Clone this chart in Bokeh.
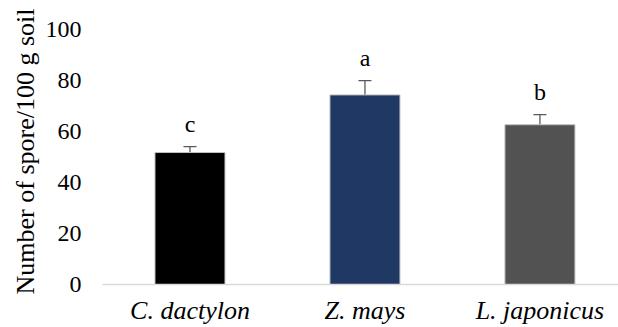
from bokeh.plotting import figure
from bokeh.models import ColumnDataSource, Range1d, FixedTicker, Whisker, TeeHead, LabelSet
from bokeh.embed import file_html
from bokeh.resources import INLINE

categories = ["C. dactylon", "Z. mays", "L. japonicus"]
means = [51.8, 74.4, 62.7]
errors = [2.3, 5.6, 4.0]
letters = ["c", "a", "b"]
colors = ["#000000", "#203864", "#525252"]
y_ticks = [0, 20, 40, 60, 80, 100]

xs = list(range(1, len(categories) + 1))
upper = [m + e for m, e in zip(means, errors)]
src = ColumnDataSource(dict(x=xs, top=means, upper=upper, base=means,
                            letters=letters, color=colors))

FONT = "Liberation Serif"

p = figure(width=618, height=327, output_backend="svg", toolbar_location=None,
           x_range=Range1d(0.5, 3.449), y_range=Range1d(0, 104.4),
           min_border_left=102, min_border_right=0, min_border_top=18, min_border_bottom=0)

p.vbar(x="x", top="top", width=0.4, fill_color="color", line_color="#bfbfbf",
       line_width=1, source=src)

wh = Whisker(base="x", upper="upper", lower="base", source=src,
             line_color="#595959", line_width=1.3,
             upper_head=TeeHead(size=13, line_color="#595959", line_width=1.3),
             lower_head=None)
p.add_layout(wh)

lbl = LabelSet(x="x", y="upper", text="letters", source=src, y_offset=23,
               text_align="center", text_baseline="middle",
               text_font=FONT, text_font_size="24px", text_color="#000000")
p.add_layout(lbl)

p.outline_line_color = None
p.xgrid.visible = False
p.ygrid.visible = False

ya = p.yaxis[0]
ya.ticker = FixedTicker(ticks=y_ticks)
ya.axis_line_color = None
ya.major_tick_line_color = None
ya.major_tick_out = 0
ya.major_tick_in = 0
ya.minor_tick_line_color = None
ya.minor_tick_out = 0
ya.major_label_standoff = 21
ya.major_label_text_font = FONT
ya.major_label_text_font_size = "24px"
ya.major_label_text_color = "#000000"
ya.axis_label = "Number of spore/100 g soil"
ya.axis_label_text_font = FONT
ya.axis_label_text_font_size = "26px"
ya.axis_label_text_font_style = "normal"
ya.axis_label_text_color = "#000000"
ya.axis_label_standoff = 3

xa = p.xaxis[0]
xa.ticker = FixedTicker(ticks=xs)
xa.major_label_overrides = {x: c for x, c in zip(xs, categories)}
xa.axis_line_color = "#d9d9d9"
xa.axis_line_width = 1.3
xa.major_tick_line_color = None
xa.major_tick_out = 0
xa.major_tick_in = 0
xa.minor_tick_line_color = None
xa.minor_tick_out = 0
xa.major_label_standoff = 11
xa.major_label_text_font = FONT
xa.major_label_text_font_size = "26px"
xa.major_label_text_font_style = "italic"
xa.major_label_text_color = "#000000"

open("out.html", "w").write(file_html(p, INLINE))
